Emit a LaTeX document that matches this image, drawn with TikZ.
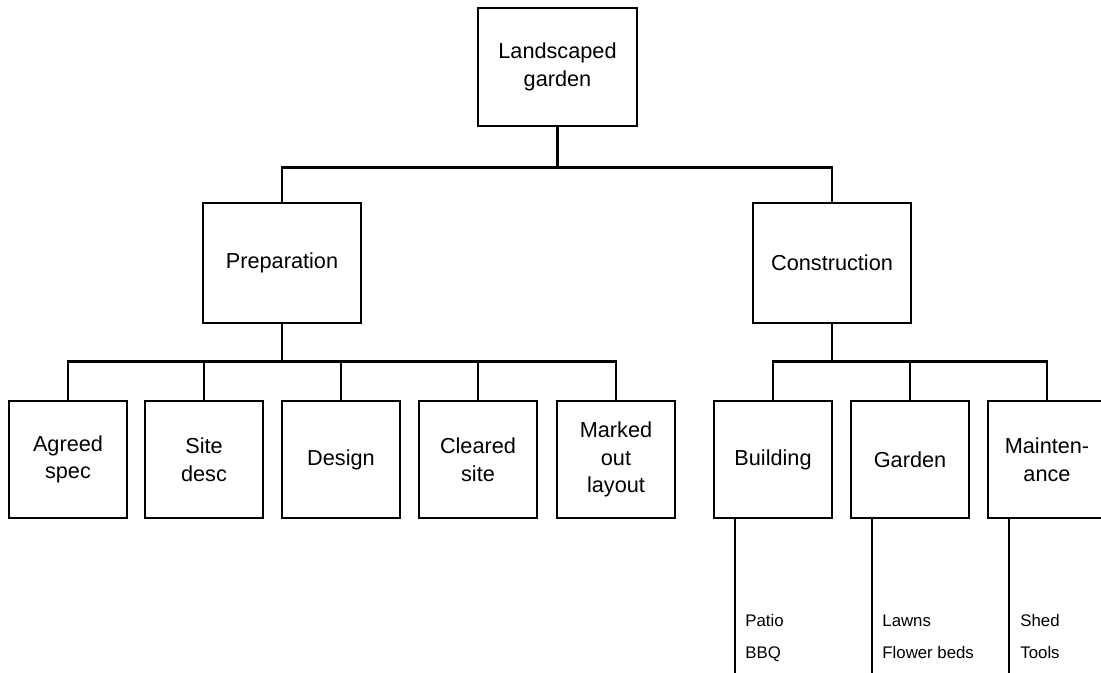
\documentclass[tikz,border=0pt]{standalone}
\usepackage{fontspec}
\setmainfont{Liberation Sans}

\tikzset{
  box/.style={draw,line width=1.4pt,align=center,inner sep=0pt,
    font=\fontsize{10.85}{13.8}\selectfont},
  rootbox/.style={box,minimum width=79.5pt,minimum height=59pt},
  midbox/.style={box,minimum width=79pt,minimum height=60pt},
  leafbox/.style={box,minimum width=59pt,minimum height=58.5pt},
  link/.style={line width=1.4pt},
  item/.style={inner sep=0pt,anchor=base west,font=\fontsize{8.4}{10}\selectfont}
}

\begin{document}
\begin{tikzpicture}[x=0.5pt,y=-0.5pt]
\useasboundingbox (0,0) rectangle (1101,673);

\node[rootbox](top) at (557.5,67) {Landscaped\\garden};
\node[midbox](prep) at (282,263) {Preparation};
\node[midbox](cons) at (832,263) {Construction};

\node[leafbox](agreed) at (68,459.5) {Agreed\\spec};
\node[leafbox](site) at (204,459.5) {Site\\desc};
\node[leafbox](design) at (341,459.5) {Design};
\node[leafbox](cleared) at (478,459.5) {Cleared\\site};
\node[leafbox](marked) at (616,459.5) {Marked\\out\\layout};

\node[leafbox](build) at (773,459.5) {Building};
\node[leafbox](gard) at (910,459.5) {Garden};
\node[leafbox](maint) at (1047,459.5) {Mainten-\\ance};

% top level
\draw[link] (top.south) -- ++(0,40) coordinate (j1);
\draw[link] (prep.north) |- (j1) -| (cons.north);

% preparation
\draw[link] (prep.south) -- ++(0,37) coordinate (j2);
\draw[link] (agreed.north) |- (j2) -| (marked.north);
\foreach \n in {site,design,cleared}
  \draw[link] (\n.north) -- (\n.north |- j2);

% construction
\draw[link] (cons.south) -- ++(0,37) coordinate (j3);
\draw[link] (build.north) |- (j3) -| (maint.north);
\draw[link] (gard.north) -- (gard.north |- j3);

% lists under the construction boxes
\coordinate (e1) at (735,673);
\coordinate (e2) at (872,673);
\coordinate (e3) at (1009,673);
\draw[link] (e1 |- build.south) -- (e1);
\draw[link] (e2 |- gard.south) -- (e2);
\draw[link] (e3 |- maint.south) -- (e3);

\node[item](patio) at (745,626) {Patio};
\node[item](bbq) at (745,658) {BBQ};
\node[item](lawns) at (882,626) {Lawns};
\node[item](beds) at (882,658) {Flower beds};
\node[item](shed) at (1020,626) {Shed};
\node[item](tools) at (1020,658) {Tools};

\end{tikzpicture}
\end{document}
